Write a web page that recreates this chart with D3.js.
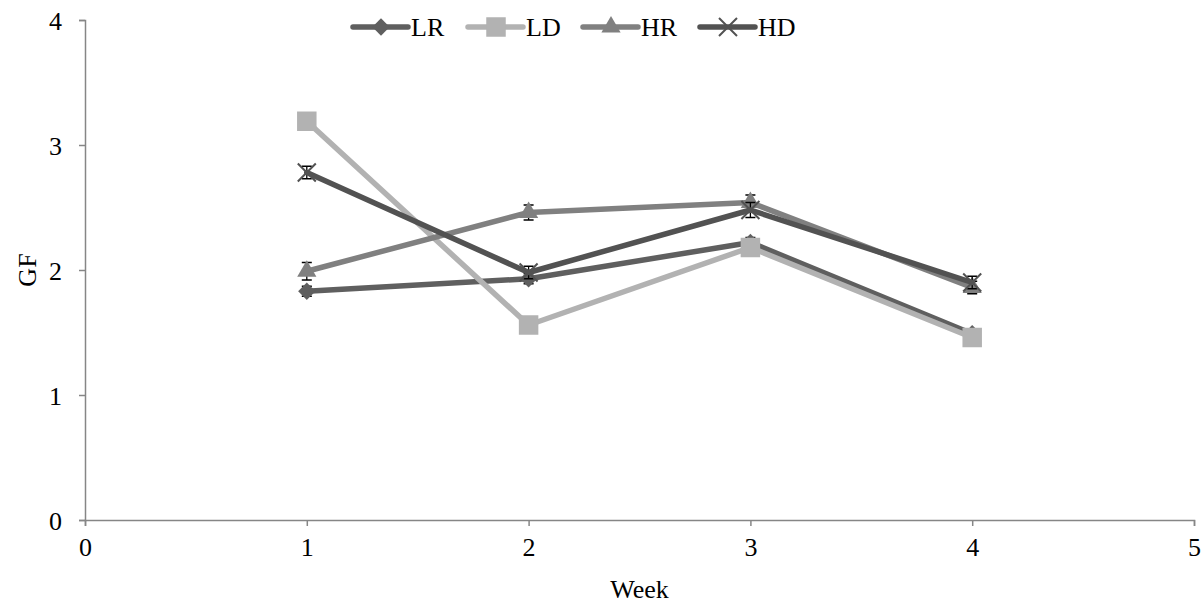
<!DOCTYPE html>
<html>
<head>
<meta charset="utf-8">
<script src="https://d3js.org/d3.v7.min.js"></script>
<style>
	body { margin: 0; background: #fff; }
	text { font-family: "Liberation Serif", "Times New Roman", serif; fill: #000; }
</style>
</head>
<body>
<div id="chart"></div>
<script>
// chart values
var weeks = [1, 2, 3, 4];
var seriesNames = ["LR", "LD", "HR", "HD"];
var valuesLR = [1.83, 1.93, 2.22, 1.49];
var valuesLD = [3.19, 1.56, 2.18, 1.46];
var valuesHR = [1.99, 2.46, 2.54, 1.86];
var valuesHD = [2.78, 1.98, 2.48, 1.90];
var errorsLR = [0.04, 0.04, 0.04, 0.03];
var errorsLD = [0.03, 0.03, 0.03, 0.04];
var errorsHR = [0.07, 0.06, 0.06, 0.05];
var errorsHD = [0.05, 0.05, 0.06, 0.05];
var xTicks = [0, 1, 2, 3, 4, 5];
var yTicks = [0, 1, 2, 3, 4];

var width = 1203, height = 605;
var margin = {left: 85, right: 9, top: 20, bottom: 85};

var series = [
	{name: "LR", values: valuesLR, errors: errorsLR, color: "#5f5f5f", shape: "diamond"},
	{name: "LD", values: valuesLD, errors: errorsLD, color: "#b2b2b2", shape: "square"},
	{name: "HR", values: valuesHR, errors: errorsHR, color: "#808080", shape: "triangle"},
	{name: "HD", values: valuesHD, errors: errorsHD, color: "#525252", shape: "x"}
];

var svg = d3.select("#chart").append("svg").attr("width", width).attr("height", height);

var x = d3.scaleLinear().domain([0, 5]).range([margin.left, width - margin.right]);
var y = d3.scaleLinear().domain([0, 4]).range([height - margin.bottom, margin.top]);

// axes
var xAxis = svg.append("g")
	.attr("transform", "translate(0," + y(0) + ")")
	.call(d3.axisBottom(x).tickValues(xTicks).tickSize(6).tickPadding(9).tickFormat(d3.format("d")));
var yAxis = svg.append("g")
	.attr("transform", "translate(" + x(0) + ",0)")
	.call(d3.axisLeft(y).tickValues(yTicks).tickSize(6).tickPadding(17).tickFormat(d3.format("d")));
[xAxis, yAxis].forEach(function(a){
	a.attr("font-size", null).attr("font-family", null);
	a.select(".domain").attr("stroke", "#868686").attr("stroke-width", 1.5);
	a.selectAll(".tick line").attr("stroke", "#868686").attr("stroke-width", 1.5);
	a.selectAll(".tick text").style("font-size", "26px").attr("fill", "#000");
});
xAxis.selectAll(".tick text").attr("dy", "0.8em");
yAxis.selectAll(".tick text").attr("dy", "0.35em");

svg.append("text").attr("x", x(2.5)).attr("y", 598).attr("text-anchor", "middle")
	.style("font-size", "26px").text("Week");
svg.append("text").attr("transform", "translate(36," + y(2) + ") rotate(-90)")
	.attr("text-anchor", "middle").style("font-size", "26px").text("GF");

// marker drawing
function drawMarker(g, shape, color, cx, cy){
	if(shape == "diamond"){
		g.append("path").attr("d", d3.symbol(d3.symbolSquare, 150)())
			.attr("transform", "translate(" + cx + "," + cy + ") rotate(45)")
			.attr("fill", color);
	}else if(shape == "square"){
		g.append("path").attr("d", d3.symbol(d3.symbolSquare, 380)())
			.attr("transform", "translate(" + cx + "," + cy + ")")
			.attr("fill", color);
	}else if(shape == "triangle"){
		g.append("path").attr("d", d3.symbol(d3.symbolTriangle, 160)())
			.attr("transform", "translate(" + cx + "," + cy + ")")
			.attr("fill", color);
	}else{
		var s = 9;
		g.append("path")
			.attr("d", "M" + (cx - s) + "," + (cy - s) + "L" + (cx + s) + "," + (cy + s) +
				"M" + (cx - s) + "," + (cy + s) + "L" + (cx + s) + "," + (cy - s))
			.attr("stroke", color).attr("stroke-width", 2).attr("fill", "none");
	}
}

var line = d3.line().x(function(d){ return x(d[0]); }).y(function(d){ return y(d[1]); });

series.forEach(function(s){
	var g = svg.append("g").attr("class", "series-" + s.name);
	var pts = weeks.map(function(w, i){ return [w, s.values[i], s.errors[i]]; });
	// error bars sit behind the markers
	pts.forEach(function(p){
		var cx = x(p[0]), y1 = y(p[1] + p[2]), y2 = y(p[1] - p[2]);
		g.append("path")
			.attr("d", "M" + cx + "," + y1 + "L" + cx + "," + y2 +
				"M" + (cx - 5) + "," + y1 + "L" + (cx + 5) + "," + y1 +
				"M" + (cx - 5) + "," + y2 + "L" + (cx + 5) + "," + y2)
			.attr("stroke", "#000").attr("stroke-width", 1.3).attr("fill", "none");
	});
	g.append("path").datum(pts).attr("d", line)
		.attr("fill", "none").attr("stroke", s.color).attr("stroke-width", 5.5)
		.attr("stroke-linejoin", "round").attr("stroke-linecap", "round");
	pts.forEach(function(p){
		drawMarker(g, s.shape, s.color, x(p[0]), y(p[1]));
	});
});

// legend
var legendX = [353, 468, 583, 700];
var legend = svg.append("g");
series.forEach(function(s, i){
	var lx = legendX[i], ly = 27;
	legend.append("line").attr("x1", lx).attr("x2", lx + 55).attr("y1", ly).attr("y2", ly)
		.attr("stroke", s.color).attr("stroke-width", 5.5).attr("stroke-linecap", "round");
	drawMarker(legend, s.shape, s.color, lx + 28, ly);
	legend.append("text").attr("x", lx + 58).attr("y", ly).attr("dy", "0.35em")
		.style("font-size", "26px").text(s.name);
});
</script>
</body>
</html>
